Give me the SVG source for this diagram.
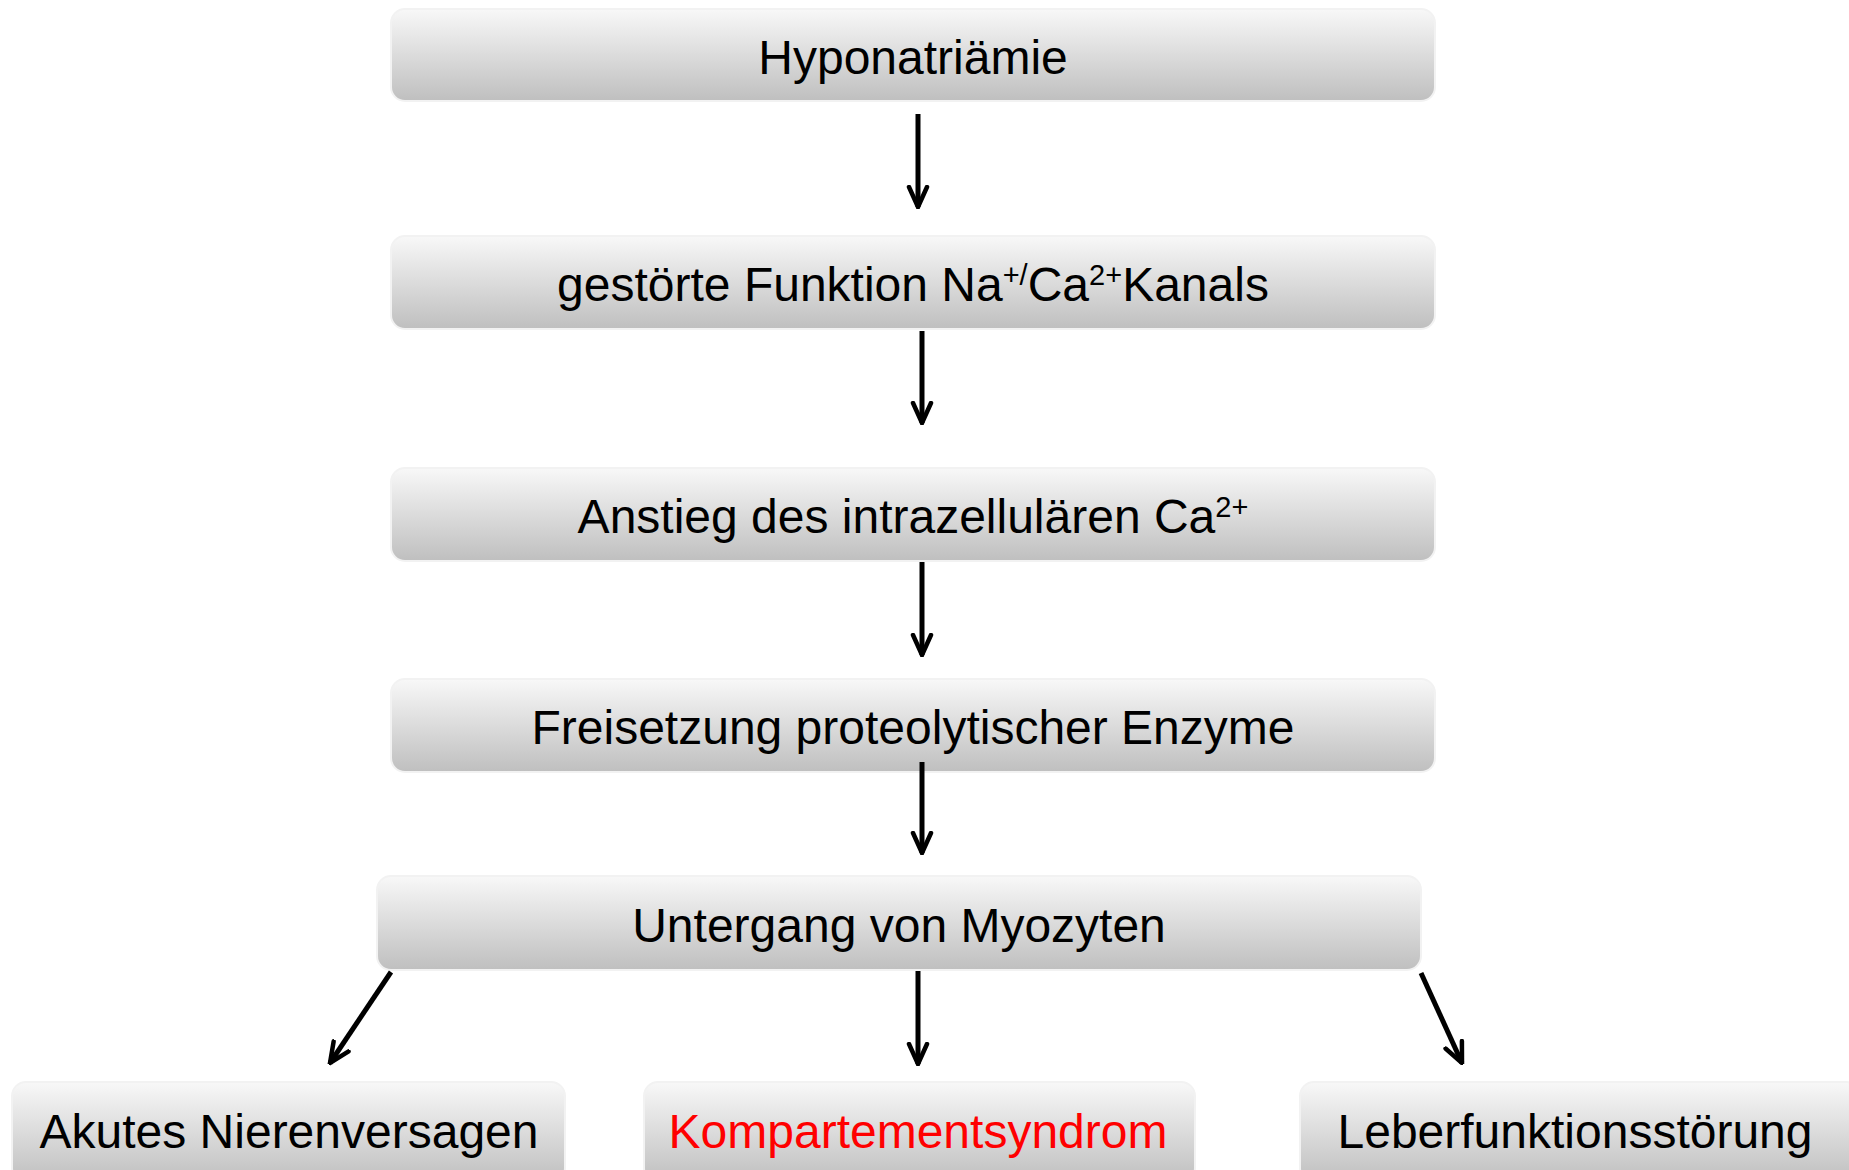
<svg xmlns="http://www.w3.org/2000/svg" width="1849" height="1170" viewBox="0 0 1849 1170">
<style>
.box{fill:url(#g);stroke:#f2f2f2;stroke-width:2}
.t{font-family:"Liberation Sans",Arial,sans-serif;font-size:48px;fill:#000;text-anchor:middle}
.red{fill:#ff0000}
.sup{font-size:29px}
.c{stroke:#000;stroke-width:5;fill:none;marker-end:url(#ah)}
</style>
<defs>
<linearGradient id="g" x1="0" y1="0" x2="0" y2="1">
<stop offset="0" stop-color="#f8f8f8"/>
<stop offset="1" stop-color="#bfbfbf"/>
</linearGradient>
<marker id="ah" viewBox="0 0 24 24" refX="22" refY="12" markerWidth="24" markerHeight="24" markerUnits="userSpaceOnUse" orient="auto">
<path d="M2,3 L22,12 L2,21" fill="none" stroke="#000" stroke-width="4.5" stroke-linejoin="miter" stroke-linecap="round"/>
</marker>
</defs>
<rect width="1849" height="1170" fill="#fff"/>
<g id="n1"><rect class="box" x="391" y="9" width="1044" height="92" rx="14"/><text class="t" x="913" y="74">Hyponatriämie</text></g>
<g id="n2"><rect class="box" x="391" y="236" width="1044" height="93" rx="14"/><text class="t" x="913" y="301">gestörte Funktion Na<tspan class="sup" dy="-16">+/</tspan><tspan dy="16">Ca</tspan><tspan class="sup" dy="-16">2+</tspan><tspan dy="16">Kanals</tspan></text></g>
<g id="n3"><rect class="box" x="391" y="468" width="1044" height="93" rx="14"/><text class="t" x="913" y="533">Anstieg des intrazellulären Ca<tspan class="sup" dy="-16">2+</tspan></text></g>
<g id="n4"><rect class="box" x="391" y="679" width="1044" height="93" rx="14"/><text class="t" x="913" y="744">Freisetzung proteolytischer Enzyme</text></g>
<g id="n5"><rect class="box" x="377" y="876" width="1044" height="94" rx="14"/><text class="t" x="899" y="942">Untergang von Myozyten</text></g>
<g id="n6"><rect class="box" x="12" y="1082" width="553" height="100" rx="14"/><text class="t" x="289" y="1148">Akutes Nierenversagen</text></g>
<g id="n7"><rect class="box" x="644" y="1082" width="551" height="100" rx="14"/><text class="t red" x="918" y="1148">Kompartementsyndrom</text></g>
<g id="n8"><rect class="box" x="1300" y="1082" width="560" height="100" rx="14"/><text class="t" x="1575" y="1148">Leberfunktionsstörung</text></g>
<g id="connectors">
<line class="c" x1="918" y1="114" x2="918" y2="207"/>
<line class="c" x1="922" y1="331" x2="922" y2="423"/>
<line class="c" x1="922" y1="562" x2="922" y2="655"/>
<line class="c" x1="922" y1="762" x2="922" y2="853"/>
<line class="c" x1="918" y1="971" x2="918" y2="1064"/>
<line class="c" x1="391" y1="972" x2="330" y2="1063"/>
<line class="c" x1="1421" y1="973" x2="1462" y2="1063"/>
</g>
</svg>
